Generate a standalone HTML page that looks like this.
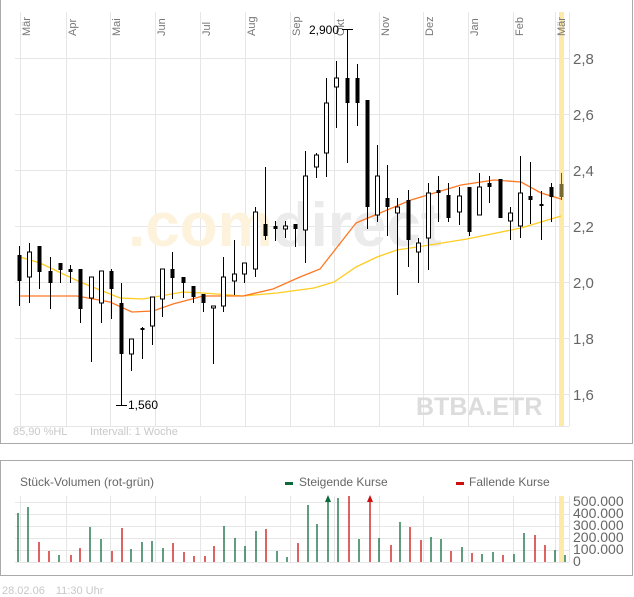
<!DOCTYPE html>
<html><head><meta charset="utf-8"><style>
html,body{margin:0;padding:0;background:#fff;}
svg{display:block;font-family:"Liberation Sans",sans-serif;}
.g{stroke:#e6e6e6;stroke-width:1}
.w{stroke:#000;stroke-width:1}
.f{fill:#000}
.h{fill:#fff;stroke:#000;stroke-width:1}
.vg{stroke:#0a6a3a;stroke-width:1.3}
.vr{stroke:#cc1010;stroke-width:1.3}
</style></head><body>
<svg width="634" height="597" viewBox="0 0 634 597" xmlns="http://www.w3.org/2000/svg">
<line x1="0.5" y1="0" x2="0.5" y2="443" stroke="#aaa"/>
<line x1="0" y1="443.5" x2="633" y2="443.5" stroke="#aaa"/>
<line x1="632.5" y1="0" x2="632.5" y2="443" stroke="#aaa"/>
<g class="g">
<line x1="15" y1="58.5" x2="569" y2="58.5"/><line x1="15" y1="114.5" x2="569" y2="114.5"/>
<line x1="15" y1="170.5" x2="569" y2="170.5"/><line x1="15" y1="226.5" x2="569" y2="226.5"/>
<line x1="15" y1="282.5" x2="569" y2="282.5"/><line x1="15" y1="338.5" x2="569" y2="338.5"/>
<line x1="15" y1="394.5" x2="569" y2="394.5"/>
<line x1="20.5" y1="12" x2="20.5" y2="426"/><line x1="66.5" y1="12" x2="66.5" y2="426"/>
<line x1="110.5" y1="12" x2="110.5" y2="426"/><line x1="155.5" y1="12" x2="155.5" y2="426"/>
<line x1="200.5" y1="12" x2="200.5" y2="426"/><line x1="245.5" y1="12" x2="245.5" y2="426"/>
<line x1="290.5" y1="12" x2="290.5" y2="426"/><line x1="334.5" y1="12" x2="334.5" y2="426"/>
<line x1="379.5" y1="12" x2="379.5" y2="426"/><line x1="423.5" y1="12" x2="423.5" y2="426"/>
<line x1="468.5" y1="12" x2="468.5" y2="426"/><line x1="513.5" y1="12" x2="513.5" y2="426"/>
<line x1="555.5" y1="12" x2="555.5" y2="426"/>
<line x1="569.5" y1="12" x2="569.5" y2="426"/>
<line x1="15" y1="426.5" x2="569" y2="426.5"/>
</g>
<rect x="559" y="12" width="5" height="414" fill="#fde9a8"/>
<text x="128" y="246" font-size="62" font-weight="bold" fill="#fdf3dc">.com<tspan fill="#ebebeb">direct</tspan></text>
<text x="416" y="415" font-size="25" font-weight="bold" fill="#dcdcdc">BTBA.ETR</text>
<g font-size="11" fill="#777">
<text transform="translate(30,36) rotate(-90)">Mär</text>
<text transform="translate(76,36) rotate(-90)">Apr</text>
<text transform="translate(120,36) rotate(-90)">Mai</text>
<text transform="translate(165,36) rotate(-90)">Jun</text>
<text transform="translate(210,36) rotate(-90)">Jul</text>
<text transform="translate(255,36) rotate(-90)">Aug</text>
<text transform="translate(300,36) rotate(-90)">Sep</text>
<text transform="translate(344,36) rotate(-90)">Okt</text>
<text transform="translate(389,36) rotate(-90)">Nov</text>
<text transform="translate(433,36) rotate(-90)">Dez</text>
<text transform="translate(478,36) rotate(-90)">Jan</text>
<text transform="translate(523,36) rotate(-90)">Feb</text>
<text transform="translate(565,36) rotate(-90)">Mär</text>
</g>
<g font-size="15" fill="#666">
<text x="573" y="64">2,8</text><text x="573" y="120">2,6</text>
<text x="573" y="176">2,4</text><text x="573" y="232">2,2</text>
<text x="573" y="288">2,0</text><text x="573" y="344">1,8</text>
<text x="573" y="400">1,6</text>
</g>
<polyline fill="none" stroke="#ffcc22" stroke-width="1.3" points="20,257 40,263 80,282 120,298 143,299 183,292 203,293 243,296 277,293 314,288 334,282 356,267 377,257 397,250 417,247 467,239 521,228 561,216"/>
<polyline fill="none" stroke="#ff7722" stroke-width="1.3" points="20,296 77,296 110,302 132,312 153,311 173,304 203,296 243,296 273,289 300,277 320,269 356,223 411,200 461,185 494,180 521,182 541,193 561,199"/>
<g>
<line class="w" x1="19.5" y1="246" x2="19.5" y2="306"/><rect class="f" x="17.5" y="255" width="4" height="26"/>
<line class="w" x1="29.5" y1="243" x2="29.5" y2="303"/><rect class="h" x="27.5" y="252" width="4" height="25"/>
<line class="w" x1="39.5" y1="246" x2="39.5" y2="289"/><rect class="f" x="37.5" y="246" width="4" height="26"/>
<line class="w" x1="50.5" y1="257" x2="50.5" y2="309"/><rect class="f" x="48.5" y="271" width="4" height="12"/>
<line class="w" x1="60.5" y1="263" x2="60.5" y2="283"/><rect class="f" x="58.5" y="263" width="4" height="7"/>
<line class="w" x1="70.5" y1="265" x2="70.5" y2="283"/><rect class="f" x="68.5" y="269" width="4" height="3"/>
<line class="w" x1="80.5" y1="269" x2="80.5" y2="323"/><rect class="f" x="78.5" y="269" width="4" height="40"/>
<line class="w" x1="91.5" y1="277" x2="91.5" y2="362"/><rect class="h" x="89.5" y="277" width="4" height="21"/>
<line class="w" x1="101.5" y1="271" x2="101.5" y2="323"/><rect class="h" x="99.5" y="271" width="4" height="32"/>
<line class="w" x1="111.5" y1="269" x2="111.5" y2="319"/><rect class="f" x="109.5" y="271" width="4" height="18"/>
<line class="w" x1="121.5" y1="283" x2="121.5" y2="406"/><rect class="f" x="119.5" y="303" width="4" height="51"/>
<line class="w" x1="116" y1="405.5" x2="127" y2="405.5"/>
<line class="w" x1="131.5" y1="339" x2="131.5" y2="371"/><rect class="h" x="129.5" y="339" width="4" height="15"/>
<line class="w" x1="142.5" y1="327" x2="142.5" y2="359"/><rect class="f" x="140.5" y="328" width="4" height="2"/>
<line class="w" x1="152.5" y1="297" x2="152.5" y2="345"/><rect class="h" x="150.5" y="297" width="4" height="29"/>
<line class="w" x1="162.5" y1="269" x2="162.5" y2="317"/><rect class="h" x="160.5" y="269" width="4" height="30"/>
<line class="w" x1="172.5" y1="252" x2="172.5" y2="299"/><rect class="f" x="170.5" y="269" width="4" height="9"/>
<line class="w" x1="183.5" y1="277" x2="183.5" y2="298"/><rect class="f" x="181.5" y="277" width="4" height="6"/>
<line class="w" x1="193.5" y1="286" x2="193.5" y2="303"/><rect class="f" x="191.5" y="286" width="4" height="11"/>
<line class="w" x1="203.5" y1="294" x2="203.5" y2="312"/><rect class="f" x="201.5" y="294" width="4" height="9"/>
<line class="w" x1="213.5" y1="306" x2="213.5" y2="364"/><rect class="h" x="211.5" y="306" width="4" height="2"/>
<line class="w" x1="223.5" y1="257" x2="223.5" y2="312"/><rect class="h" x="221.5" y="277" width="4" height="29"/>
<line class="w" x1="234.5" y1="240" x2="234.5" y2="295"/><rect class="h" x="232.5" y="274" width="4" height="7"/>
<line class="w" x1="244.5" y1="263" x2="244.5" y2="283"/><rect class="h" x="242.5" y="263" width="4" height="11"/>
<line class="w" x1="255.5" y1="207" x2="255.5" y2="277"/><rect class="h" x="253.5" y="212" width="4" height="57"/>
<line class="w" x1="265.5" y1="167" x2="265.5" y2="240"/><rect class="f" x="263.5" y="224" width="4" height="12"/>
<line class="w" x1="275.5" y1="221" x2="275.5" y2="241"/><rect class="f" x="273.5" y="226" width="4" height="3"/>
<line class="w" x1="285.5" y1="221" x2="285.5" y2="238"/><rect class="h" x="283.5" y="226" width="4" height="3"/>
<line class="w" x1="295.5" y1="224" x2="295.5" y2="247"/><rect class="f" x="293.5" y="224" width="4" height="5"/>
<line class="w" x1="305.5" y1="151" x2="305.5" y2="263"/><rect class="h" x="303.5" y="176" width="4" height="54"/>
<line class="w" x1="316.5" y1="153" x2="316.5" y2="178"/><rect class="h" x="314.5" y="155" width="4" height="12"/>
<line class="w" x1="326.5" y1="78" x2="326.5" y2="177"/><rect class="h" x="324.5" y="103" width="4" height="50"/>
<line class="w" x1="336.5" y1="61" x2="336.5" y2="128"/><rect class="h" x="334.5" y="78" width="4" height="9"/>
<line class="w" x1="347.5" y1="29" x2="347.5" y2="163"/><rect class="f" x="345.5" y="78" width="4" height="25"/>
<line class="w" x1="342" y1="29.5" x2="353" y2="29.5"/>
<line class="w" x1="357.5" y1="64" x2="357.5" y2="126"/><rect class="f" x="355.5" y="78" width="4" height="25"/>
<line class="w" x1="367.5" y1="100" x2="367.5" y2="229"/><rect class="f" x="365.5" y="100" width="4" height="107"/>
<line class="w" x1="377.5" y1="145" x2="377.5" y2="222"/><rect class="h" x="375.5" y="176" width="4" height="39"/>
<line class="w" x1="387.5" y1="165" x2="387.5" y2="236"/><rect class="f" x="385.5" y="198" width="4" height="9"/>
<line class="w" x1="397.5" y1="198" x2="397.5" y2="295"/><rect class="h" x="395.5" y="207" width="4" height="6"/>
<line class="w" x1="408.5" y1="190" x2="408.5" y2="267"/><rect class="f" x="406.5" y="200" width="4" height="40"/>
<line class="w" x1="418.5" y1="238" x2="418.5" y2="283"/><rect class="h" x="416.5" y="243" width="4" height="9"/>
<line class="w" x1="428.5" y1="183" x2="428.5" y2="270"/><rect class="h" x="426.5" y="193" width="4" height="45"/>
<line class="w" x1="438.5" y1="176" x2="438.5" y2="222"/><rect class="f" x="436.5" y="190" width="4" height="3"/>
<line class="w" x1="448.5" y1="183" x2="448.5" y2="222"/><rect class="f" x="446.5" y="195" width="4" height="23"/>
<line class="w" x1="459.5" y1="187" x2="459.5" y2="225"/><rect class="h" x="457.5" y="196" width="4" height="16"/>
<line class="w" x1="469.5" y1="187" x2="469.5" y2="236"/><rect class="f" x="467.5" y="187" width="4" height="45"/>
<line class="w" x1="479.5" y1="173" x2="479.5" y2="215"/><rect class="h" x="477.5" y="187" width="4" height="28"/>
<line class="w" x1="489.5" y1="176" x2="489.5" y2="203"/><rect class="f" x="487.5" y="183" width="4" height="4"/>
<line class="w" x1="500.5" y1="179" x2="500.5" y2="218"/><rect class="f" x="498.5" y="179" width="4" height="39"/>
<line class="w" x1="510.5" y1="207" x2="510.5" y2="240"/><rect class="h" x="508.5" y="213" width="4" height="8"/>
<line class="w" x1="520.5" y1="156" x2="520.5" y2="238"/><rect class="h" x="518.5" y="193" width="4" height="33"/>
<line class="w" x1="530.5" y1="162" x2="530.5" y2="224"/><rect class="f" x="528.5" y="196" width="4" height="4"/>
<line class="w" x1="541.5" y1="191" x2="541.5" y2="240"/><rect class="f" x="539.5" y="204" width="4" height="2"/>
<line class="w" x1="551.5" y1="183" x2="551.5" y2="222"/><rect class="f" x="549.5" y="187" width="4" height="10"/>
<line x1="561.5" y1="173" x2="561.5" y2="200" stroke="#6b5a2a"/><rect x="559.5" y="184" width="4" height="13" fill="#7a6a30"/>
</g>
<text x="309" y="34" font-size="12" fill="#000">2,900</text>
<text x="128" y="409" font-size="12" fill="#000">1,560</text>
<g font-size="11" fill="#c8c8c8">
<text x="13" y="435">85,90 %HL</text>
<text x="90" y="435">Intervall: 1 Woche</text>
</g>

<rect x="0.5" y="460.5" width="632" height="115" fill="#fff" stroke="#aaa"/>
<text x="20" y="486" font-size="12" fill="#666">Stück-Volumen (rot-grün)</text>
<rect x="285" y="482" width="8" height="3" fill="#0a6a3a"/>
<text x="299" y="486" font-size="12" fill="#666">Steigende Kurse</text>
<rect x="456" y="482" width="8" height="3" fill="#cc1010"/>
<text x="469" y="486" font-size="12" fill="#666">Fallende Kurse</text>
<g class="g">
<line x1="15" y1="502.5" x2="569" y2="502.5"/><line x1="15" y1="514.5" x2="569" y2="514.5"/>
<line x1="15" y1="526.5" x2="569" y2="526.5"/><line x1="15" y1="538.5" x2="569" y2="538.5"/>
<line x1="15" y1="550.5" x2="569" y2="550.5"/><line x1="15" y1="562.5" x2="569" y2="562.5"/>
<line x1="20.5" y1="496" x2="20.5" y2="562"/><line x1="66.5" y1="496" x2="66.5" y2="562"/>
<line x1="110.5" y1="496" x2="110.5" y2="562"/><line x1="155.5" y1="496" x2="155.5" y2="562"/>
<line x1="200.5" y1="496" x2="200.5" y2="562"/><line x1="245.5" y1="496" x2="245.5" y2="562"/>
<line x1="290.5" y1="496" x2="290.5" y2="562"/><line x1="334.5" y1="496" x2="334.5" y2="562"/>
<line x1="379.5" y1="496" x2="379.5" y2="562"/><line x1="423.5" y1="496" x2="423.5" y2="562"/>
<line x1="468.5" y1="496" x2="468.5" y2="562"/><line x1="513.5" y1="496" x2="513.5" y2="562"/>
<line x1="555.5" y1="496" x2="555.5" y2="562"/><line x1="569.5" y1="496" x2="569.5" y2="562"/>
</g>
<rect x="559" y="496" width="5" height="66" fill="#fde9a8"/>
<g font-size="14" fill="#666">
<text x="573" y="506">500.000</text><text x="573" y="518">400.000</text>
<text x="573" y="530">300.000</text><text x="573" y="542">200.000</text>
<text x="573" y="554">100.000</text><text x="573" y="566">0</text>
</g>
<g>
<line class="vg" x1="18" y1="513" x2="18" y2="562"/>
<line class="vg" x1="28" y1="507" x2="28" y2="562"/>
<line class="vr" x1="39" y1="542" x2="39" y2="562"/>
<line class="vr" x1="49" y1="551" x2="49" y2="562"/>
<line class="vg" x1="59" y1="555" x2="59" y2="562"/>
<line class="vr" x1="71" y1="555" x2="71" y2="562"/>
<line class="vr" x1="80" y1="548" x2="80" y2="562"/>
<line class="vg" x1="90" y1="527" x2="90" y2="562"/>
<line class="vg" x1="101" y1="539" x2="101" y2="562"/>
<line class="vr" x1="112" y1="551" x2="112" y2="562"/>
<line class="vr" x1="122" y1="528" x2="122" y2="562"/>
<line class="vg" x1="131" y1="549" x2="131" y2="562"/>
<line class="vg" x1="142" y1="542" x2="142" y2="562"/>
<line class="vg" x1="152" y1="541" x2="152" y2="562"/>
<line class="vg" x1="163" y1="548" x2="163" y2="562"/>
<line class="vr" x1="173" y1="543" x2="173" y2="562"/>
<line class="vr" x1="184" y1="552" x2="184" y2="562"/>
<line class="vr" x1="194" y1="556" x2="194" y2="562"/>
<line class="vr" x1="205" y1="556" x2="205" y2="562"/>
<line class="vr" x1="214" y1="546" x2="214" y2="562"/>
<line class="vg" x1="224" y1="526" x2="224" y2="562"/>
<line class="vg" x1="235" y1="538" x2="235" y2="562"/>
<line class="vg" x1="245" y1="546" x2="245" y2="562"/>
<line class="vg" x1="256" y1="531" x2="256" y2="562"/>
<line class="vr" x1="266" y1="529" x2="266" y2="562"/>
<line class="vg" x1="277" y1="551" x2="277" y2="562"/>
<line class="vg" x1="287" y1="557" x2="287" y2="562"/>
<line class="vr" x1="298" y1="543" x2="298" y2="562"/>
<line class="vg" x1="308" y1="505" x2="308" y2="562"/>
<line class="vg" x1="317" y1="524" x2="317" y2="562"/>
<line class="vg" x1="328" y1="499" x2="328" y2="562"/>
<polygon points="325,502 328,495 331,502" fill="#0a6a3a"/>
<line class="vg" x1="338" y1="498" x2="338" y2="562"/>
<line class="vr" x1="349" y1="496" x2="349" y2="562"/>
<line class="vg" x1="359" y1="539" x2="359" y2="562"/>
<line class="vr" x1="370" y1="499" x2="370" y2="562"/>
<polygon points="367,502 370,495 373,502" fill="#cc1010"/>
<line class="vg" x1="379" y1="538" x2="379" y2="562"/>
<line class="vr" x1="391" y1="545" x2="391" y2="562"/>
<line class="vg" x1="400" y1="522" x2="400" y2="562"/>
<line class="vr" x1="410" y1="527" x2="410" y2="562"/>
<line class="vr" x1="421" y1="540" x2="421" y2="562"/>
<line class="vg" x1="431" y1="537" x2="431" y2="562"/>
<line class="vg" x1="441" y1="539" x2="441" y2="562"/>
<line class="vr" x1="451" y1="551" x2="451" y2="562"/>
<line class="vg" x1="462" y1="547" x2="462" y2="562"/>
<line class="vr" x1="472" y1="553" x2="472" y2="562"/>
<line class="vg" x1="482" y1="554" x2="482" y2="562"/>
<line class="vg" x1="493" y1="552" x2="493" y2="562"/>
<line class="vr" x1="503" y1="555" x2="503" y2="562"/>
<line class="vg" x1="514" y1="554" x2="514" y2="562"/>
<line class="vg" x1="524" y1="533" x2="524" y2="562"/>
<line class="vr" x1="535" y1="535" x2="535" y2="562"/>
<line class="vr" x1="545" y1="545" x2="545" y2="562"/>
<line class="vg" x1="555" y1="550" x2="555" y2="562"/>
<line class="vg" x1="565" y1="555" x2="565" y2="562"/>
</g>
<text x="2" y="594" font-size="11" fill="#c8c8c8">28.02.06 <tspan dx="8">11:30 Uhr</tspan></text>
</svg>
</body></html>
